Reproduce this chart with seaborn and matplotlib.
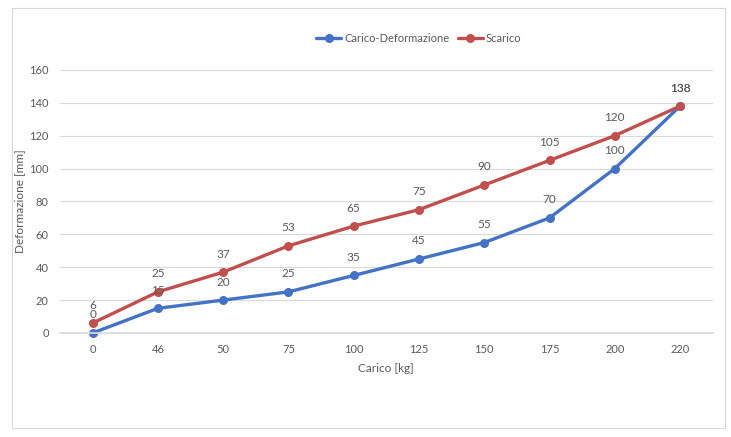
import numpy as np
import pandas as pd
import matplotlib.pyplot as plt
import seaborn as sns
from matplotlib.patches import Rectangle

sns.set_theme(style='white')
plt.rcParams['font.family'] = ['Lato', 'DejaVu Sans']

carico = ['0', '46', '50', '75', '100', '125', '150', '175', '200', '220']
deformazione = [0, 15, 20, 25, 35, 45, 55, 70, 100, 138]
scarico = [6, 25, 37, 53, 65, 75, 90, 105, 120, 138]

df = pd.DataFrame({
    'Carico': carico * 2,
    'Valore': deformazione + scarico,
    'Serie': ['Carico-Deformazione'] * len(carico) + ['Scarico'] * len(carico),
})

grey = '#595959'
colors = {'Carico-Deformazione': '#4472C4', 'Scarico': '#C0504D'}

fig = plt.figure(figsize=(7.31, 4.37), dpi=100)
ax = fig.add_axes([0.082, 0.238, 0.893, 0.602])

sns.lineplot(data=df, x='Carico', y='Valore', hue='Serie', palette=colors,
             marker='o', markersize=6.5, markeredgewidth=0, linewidth=2.4,
             sort=False, ax=ax)
for line in ax.lines:
    line.set_clip_on(False)

for serie, vals in [('Carico-Deformazione', deformazione), ('Scarico', scarico)]:
    for i, v in enumerate(vals):
        ax.annotate(str(v), (i, v), xytext=(0, 13), textcoords='offset points',
                    ha='center', va='center', fontsize=8.5, color=grey)

ax.set_xlim(-0.5, len(carico) - 0.5)
ax.set_ylim(0, 160)
ax.set_yticks(np.arange(0, 161, 20))
ax.yaxis.grid(True, color='#d9d9d9', linewidth=0.8)
ax.set_axisbelow(True)
for s in ['top', 'right', 'left']:
    ax.spines[s].set_visible(False)
ax.spines['bottom'].set_color('#d9d9d9')
ax.tick_params(axis='both', length=0, labelsize=8, labelcolor=grey, pad=8)
ax.set_xlabel('Carico [kg]', fontsize=8.5, color=grey, labelpad=6)
ax.set_ylabel('Deformazione [mm]', fontsize=8.5, color=grey, labelpad=3)

ax.legend(loc='upper center', bbox_to_anchor=(0.55, 1.18), ncol=2, frameon=False,
          fontsize=8, labelcolor=grey, handlelength=2.2, columnspacing=0.8,
          handletextpad=0.3)

fig.patches.append(Rectangle((12 / 731, 1 - 428 / 437), 713 / 731, 420 / 437,
                             transform=fig.transFigure, fill=False,
                             edgecolor='#d9d9d9', linewidth=0.8))

fig.savefig('out.png', dpi=100)
